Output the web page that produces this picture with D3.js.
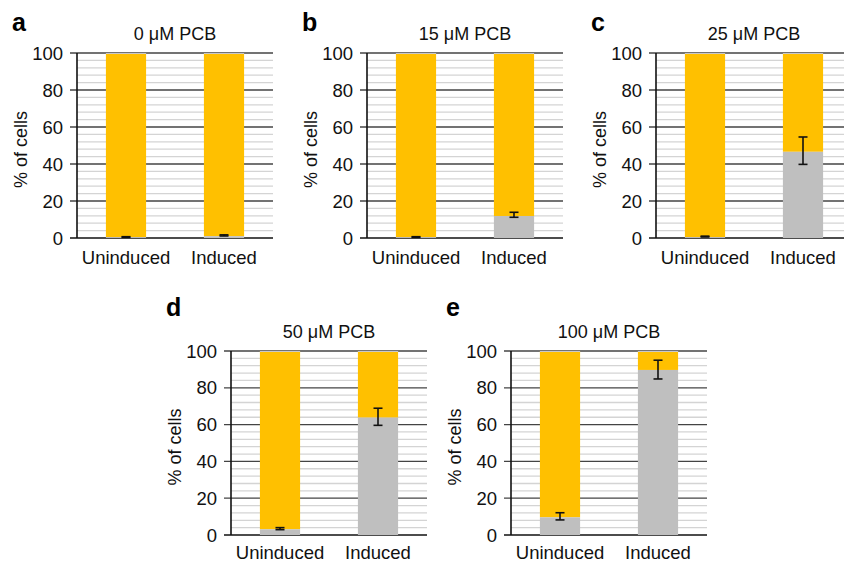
<!DOCTYPE html>
<html>
<head>
<meta charset="utf-8">
<script src="https://cdn.jsdelivr.net/npm/d3@7"></script>
<style>
  body { margin: 0; background: #fff; }
  svg { display: block; font-family: "Liberation Sans", Arial, Helvetica, sans-serif; }
  .tick-label { font-size: 18.5px; fill: #111; }
  .cat-label { font-size: 18.5px; fill: #111; }
  .title { font-size: 18px; fill: #111; }
  .ylab { font-size: 18px; fill: #111; }
  .letter { font-size: 25px; font-weight: bold; fill: #000; }
</style>
</head>
<body>
<div id="chart"></div>
<script>
// data
const panelLetters = ["a", "b", "c", "d", "e"]
const pcbTitles = ["0 \u03bcM PCB", "15 \u03bcM PCB", "25 \u03bcM PCB", "50 \u03bcM PCB", "100 \u03bcM PCB"]
const categories = ["Uninduced", "Induced"]

// grey (lower) segment, % of cells
const greyUninduced = [0.5, 0.5, 0.5, 3.1, 9.6]
const greyInduced = [1.0, 11.9, 46.6, 63.8, 89.7]
// error bar ends
const errLowUninduced = [0.35, 0.35, 0.55, 2.9, 8.2]
const errHighUninduced = [0.7, 0.7, 1.0, 4.0, 12.1]
const errLowInduced = [1.1, 11.2, 39.8, 59.6, 84.8]
const errHighInduced = [1.7, 13.9, 54.6, 68.9, 95.0]

const yTicks = [0, 20, 40, 60, 80, 100]

// panel placement (plot area left edge / top / bottom)
const panelLeft = [77, 367, 656, 231, 511]
const panelTop = [53, 53, 53, 351, 351]
const panelBottom = [238, 238, 238, 535, 535]
const letterY = [31, 31, 31, 316, 316]
const catLabelGap = [25.5, 25.5, 25.5, 24, 24]

const plotWidth = 196
const colorOrange = "#ffc000"
const colorGrey = "#bfbfbf"

const svg = d3.select("#chart")
  .append("svg")
  .attr("width", 844)
  .attr("height", 562)

panelLetters.forEach((letter, i) => {
  const left = panelLeft[i]
  const top = panelTop[i]
  const bottom = panelBottom[i]

  const g = svg.append("g").attr("transform", `translate(${left},${top})`)
  const innerHeight = bottom - top

  const x = d3.scaleBand()
    .domain(categories)
    .range([0, plotWidth])
    .paddingInner(0.59)
    .paddingOuter(0.295)

  const y = d3.scaleLinear().domain([0, 100]).range([innerHeight, 0])

  // minor grid every 4
  const minor = d3.range(4, 100, 4).filter(d => d % 20 !== 0)
  g.append("g")
    .selectAll("line")
    .data(minor)
    .join("line")
    .attr("x1", 0)
    .attr("x2", plotWidth)
    .attr("y1", d => y(d))
    .attr("y2", d => y(d))
    .attr("stroke", "#d4d4d4")
    .attr("stroke-width", 1.3)

  // major grid + outward ticks
  g.append("g")
    .selectAll("line")
    .data(yTicks)
    .join("line")
    .attr("x1", -7)
    .attr("x2", plotWidth)
    .attr("y1", d => y(d))
    .attr("y2", d => y(d))
    .attr("stroke", d => d === 0 ? "#111" : "#444")
    .attr("stroke-width", d => d === 0 ? 1.6 : 1.3)

  // tick labels
  g.append("g")
    .selectAll("text")
    .data(yTicks)
    .join("text")
    .attr("class", "tick-label")
    .attr("x", -14)
    .attr("y", d => y(d))
    .attr("dy", "0.36em")
    .attr("text-anchor", "end")
    .text(d => d)

  const greys = [greyUninduced[i], greyInduced[i]]
  const lows = [errLowUninduced[i], errLowInduced[i]]
  const highs = [errHighUninduced[i], errHighInduced[i]]

  const bars = categories.map((c, k) => ({ cat: c, grey: greys[k], lo: lows[k], hi: highs[k] }))

  // orange (upper) segment
  g.append("g")
    .selectAll("rect")
    .data(bars)
    .join("rect")
    .attr("x", d => x(d.cat))
    .attr("width", x.bandwidth())
    .attr("y", y(100))
    .attr("height", d => y(d.grey) - y(100))
    .attr("fill", colorOrange)

  // grey (lower) segment
  g.append("g")
    .selectAll("rect")
    .data(bars)
    .join("rect")
    .attr("x", d => x(d.cat))
    .attr("width", x.bandwidth())
    .attr("y", d => y(d.grey))
    .attr("height", d => y(0) - y(d.grey))
    .attr("fill", colorGrey)

  // thin grey edge on bar top
  g.append("g")
    .selectAll("line")
    .data(bars)
    .join("line")
    .attr("x1", d => x(d.cat))
    .attr("x2", d => x(d.cat) + x.bandwidth())
    .attr("y1", y(100) + 0.5)
    .attr("y2", y(100) + 0.5)
    .attr("stroke", "#c8c8c8")
    .attr("stroke-width", 1)

  // error bars
  const eb = g.append("g").attr("stroke", "#111").attr("stroke-width", 1.6)
  bars.forEach(d => {
    const cx = x(d.cat) + x.bandwidth() / 2
    eb.append("line").attr("x1", cx).attr("x2", cx).attr("y1", y(d.lo)).attr("y2", y(d.hi))
    eb.append("line").attr("x1", cx - 4.5).attr("x2", cx + 4.5).attr("y1", y(d.lo)).attr("y2", y(d.lo))
    eb.append("line").attr("x1", cx - 4.5).attr("x2", cx + 4.5).attr("y1", y(d.hi)).attr("y2", y(d.hi))
  })

  // y axis line
  g.append("line")
    .attr("x1", 0).attr("x2", 0)
    .attr("y1", 0).attr("y2", innerHeight)
    .attr("stroke", "#111")
    .attr("stroke-width", 1.6)

  // category labels
  g.append("g")
    .selectAll("text")
    .data(categories)
    .join("text")
    .attr("class", "cat-label")
    .attr("x", d => x(d) + x.bandwidth() / 2)
    .attr("y", innerHeight + catLabelGap[i])
    .attr("text-anchor", "middle")
    .text(d => d)

  // title
  g.append("text")
    .attr("class", "title")
    .attr("x", plotWidth / 2)
    .attr("y", -13.5)
    .attr("text-anchor", "middle")
    .text(pcbTitles[i])

  // y label
  g.append("text")
    .attr("class", "ylab")
    .attr("transform", `translate(-50,${innerHeight / 2 + 4}) rotate(-90)`)
    .attr("text-anchor", "middle")
    .text("% of cells")

  // panel letter
  svg.append("text")
    .attr("class", "letter")
    .attr("x", left - 65)
    .attr("y", letterY[i])
    .text(letter)
})
</script>
</body>
</html>
